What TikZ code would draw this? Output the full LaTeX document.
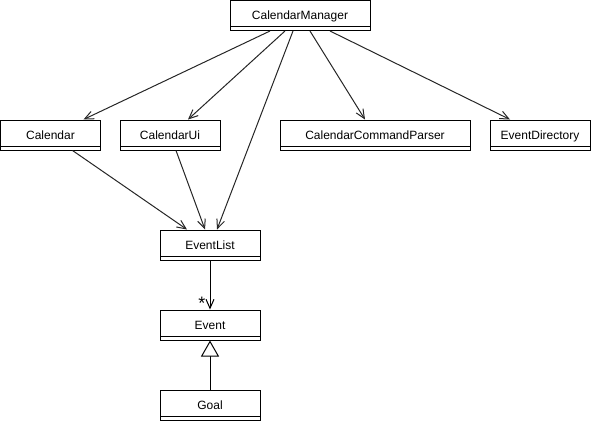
\documentclass[tikz,border=0pt]{standalone}
\usepackage{fontspec}
\setmainfont{Liberation Sans}
\usepackage{tikz}
\usetikzlibrary{arrows.meta}

\tikzset{
  classe/.style={draw, line width=1pt, minimum width=100pt, inner xsep=0pt, inner ysep=0pt,
    text height=19pt, text depth=11pt, font=\fontsize{12}{14}\selectfont,
    path picture={\draw[line width=1pt] ([yshift=4pt]path picture bounding box.south west) -- ([yshift=4pt]path picture bounding box.south east);}},
  dip/.style={draw=black!85, line width=1pt, -{Straight Barb[length=9pt,width=8pt]}},
  gen/.style={draw=black, line width=1pt, -{Triangle[open,length=16pt,width=18pt,fill=white]}}
}

\begin{document}
\begin{tikzpicture}[x=1pt,y=-1pt]
\useasboundingbox (0,0) rectangle (592,421);

% Classe principale
\node [classe, minimum width=140pt] (mgr) at (300,15.5) {CalendarManager};

% Classi di secondo livello
\node [classe] (cal) at (50.5,135) {Calendar};
\node [classe] (ui) at (170,135) {CalendarUi};
\node [classe, minimum width=190pt] (parser) at (375,135) {CalendarCommandParser};
\node [classe] (dir) at (540,135) {EventDirectory};

% Eventi
\node [classe] (list) at (210,245) {EventList};
\node [classe] (event) at (210,325) {Event};
\node [classe] (goal) at (210,405) {Goal};

% Dipendenze
\draw [dip] ([xshift=-30pt]mgr.south) -- ([xshift=33pt]cal.north);
\draw [dip] ([xshift=-15pt]mgr.south) -- ([xshift=18pt]ui.north);
\draw [dip] ([xshift=-7pt]mgr.south) -- ([xshift=7pt]list.north);
\draw [dip] ([xshift=10pt]mgr.south) -- ([xshift=-10pt]parser.north);
\draw [dip] ([xshift=30pt]mgr.south) -- ([xshift=-30pt]dir.north);
\draw [dip] ([xshift=22pt]cal.south) -- ([xshift=-23pt]list.north);
\draw [dip] ([xshift=6pt]ui.south) -- ([xshift=-5pt]list.north);

% Associazione
\draw [dip, draw=black] (list.south) -- (event.north)
  node [pos=0.87, anchor=east, xshift=-3pt, inner sep=1pt, font=\fontsize{18}{20}\selectfont] {*};

% Generalizzazione
\draw [gen] (goal.north) -- (event.south);

\end{tikzpicture}
\end{document}
